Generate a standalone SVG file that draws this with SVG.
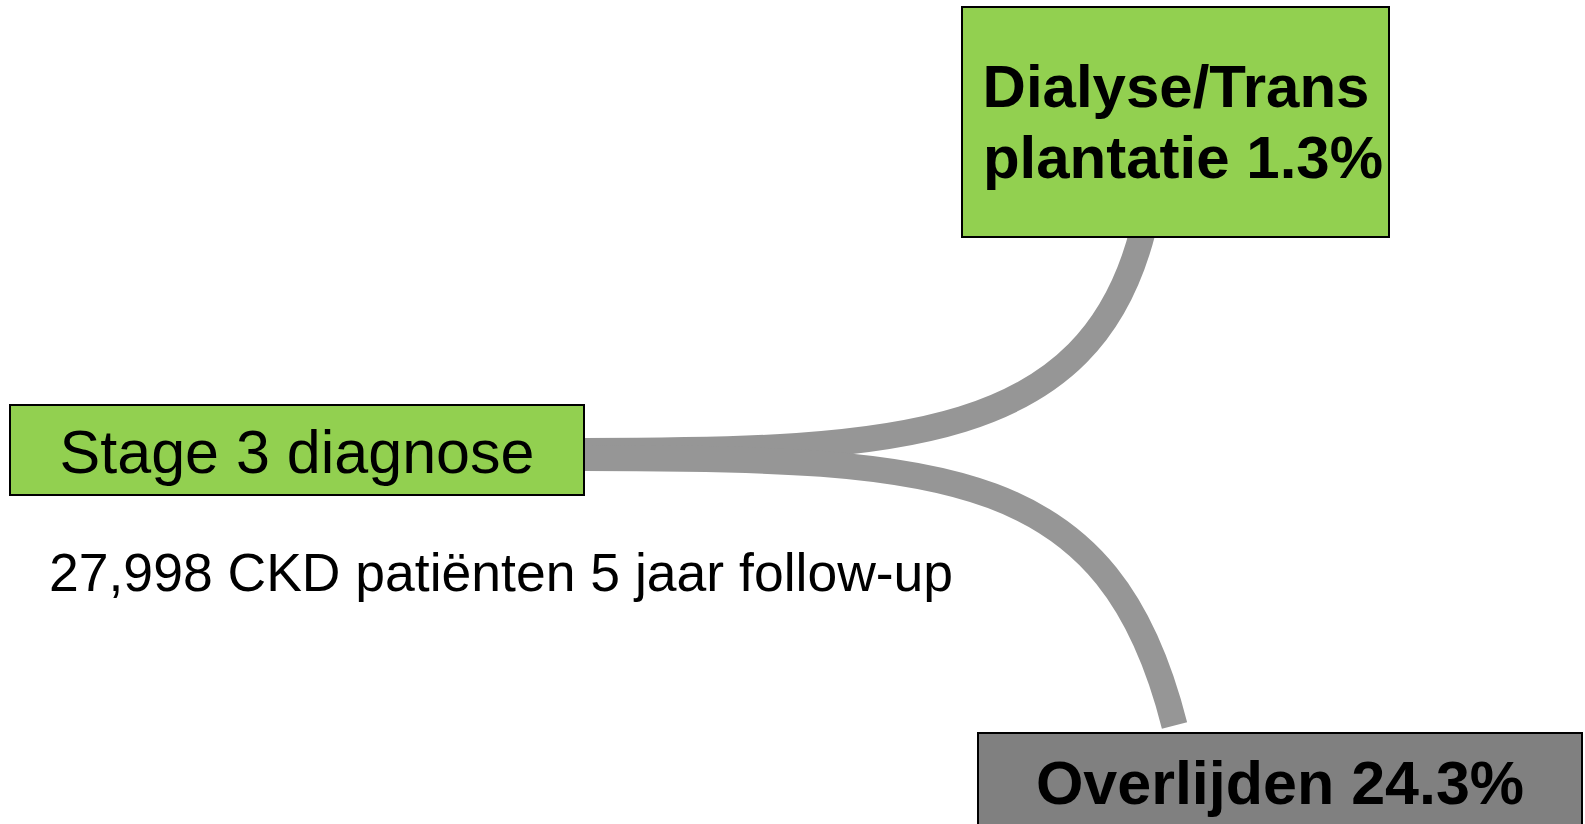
<svg xmlns="http://www.w3.org/2000/svg" width="1585" height="824" viewBox="0 0 1585 824">
<style>
.box{stroke:#000;stroke-width:2}
.green{fill:#92D050}
.grey{fill:#808080}
.link{fill:none;stroke:#969696;stroke-width:26;stroke-linecap:butt}
.t{font-family:"Liberation Sans",Arial,sans-serif;fill:#000}
.b{font-weight:bold}
</style>
<rect width="1585" height="824" fill="#fff"/>
<g id="connectors">
<path class="link" d="M584,451 C900,451 1090,440 1143,230"/>
<path class="link" d="M584,458 C950,458 1110,470 1174.5,725.5"/>
</g>
<g id="node-stage3">
<rect class="box green" x="10" y="405" width="574" height="90"/>
<text class="t" x="297" y="473" font-size="61" text-anchor="middle">Stage 3 diagnose</text>
</g>
<g id="node-dialyse">
<rect class="box green" x="962" y="7" width="427" height="230"/>
<text class="t b" x="1176" y="107" font-size="60" text-anchor="middle">Dialyse/Trans</text>
<text class="t b" x="1183" y="178" font-size="60" text-anchor="middle">plantatie 1.3%</text>
</g>
<g id="node-overlijden">
<rect class="box grey" x="978" y="733" width="604" height="100"/>
<text class="t b" x="1280" y="804" font-size="61" text-anchor="middle">Overlijden 24.3%</text>
</g>
<text class="t" x="49" y="591" font-size="53.5">27,998 CKD patiënten 5 jaar follow-up</text>
</svg>
